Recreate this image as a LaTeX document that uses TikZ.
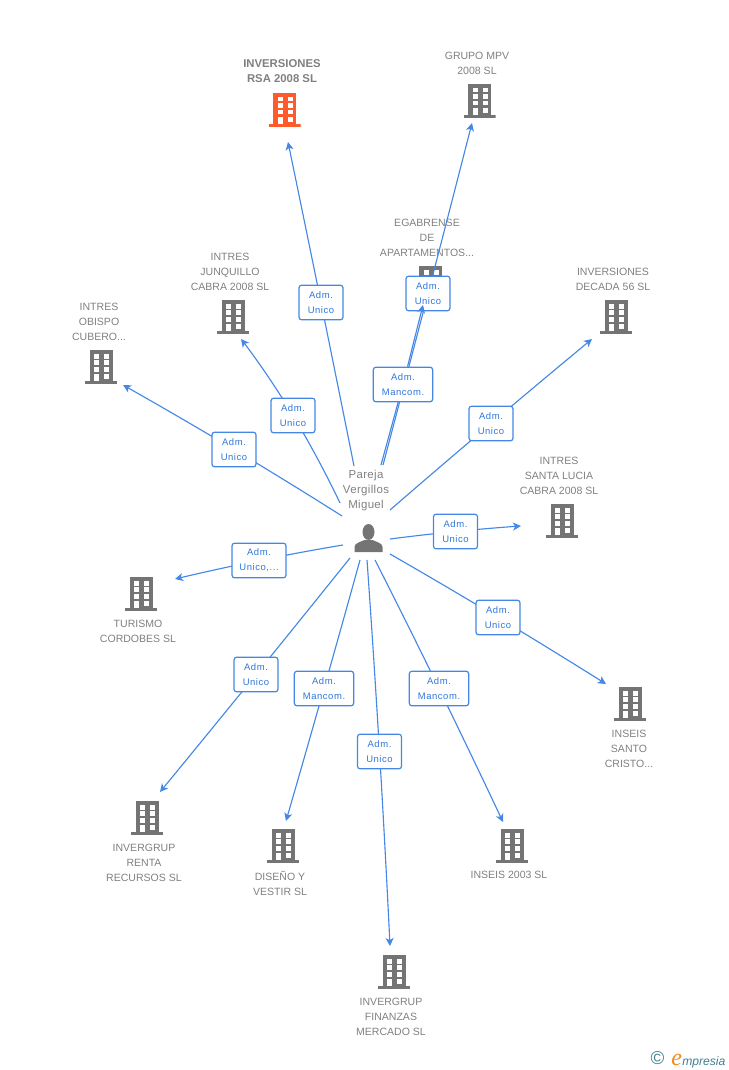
\documentclass[tikz,border=0pt]{standalone}
\usepackage{fontspec}
\setmainfont{Liberation Sans}
\newfontfamily\lblfont[LetterSpace=6]{Liberation Sans}
\newfontfamily\persfont[LetterSpace=3]{Liberation Sans}
\newfontfamily\logoserif{Liberation Serif}
\usetikzlibrary{arrows.meta}
\definecolor{edgeblue}{HTML}{4487E6}
\definecolor{lblblue}{HTML}{2F78DC}
\definecolor{txtgray}{HTML}{808080}
\definecolor{iconGray}{HTML}{747474}
\definecolor{iconRed}{HTML}{FF5A2B}
\definecolor{logoTeal}{HTML}{3F7F94}
\definecolor{logoOrange}{HTML}{F08A1E}
\pgfdeclarelayer{under}
\pgfdeclarelayer{mid}
\pgfsetlayers{under,mid,main}
\newcommand{\bldgicon}[1]{%
  \begin{scope}[shift={(path picture bounding box.center)},x=.75pt,y=-.75pt]
    \fill[#1] (-11.5,-17) rectangle (11.5,14);
    \fill[#1] (-16,14) rectangle (16,17);
    \foreach \wy/\wh in {-13/4.5,-7/5,0/4.5}{
      \fill[white] (-7,\wy) rectangle ++(5,\wh);
      \fill[white] (3,\wy) rectangle ++(5,\wh);
    }
    \fill[white] (-7,7) rectangle (-2,14);
    \fill[white] (3,7) rectangle (8,12);
  \end{scope}}
\tikzset{
  x=.75pt,y=-.75pt,
  bldg/.style={minimum width=24pt,minimum height=25.5pt,inner sep=0pt,outer sep=0pt,path picture={\bldgicon{#1}}},
  bldg/.default=iconGray,
  pers/.style={minimum width=22.5pt,minimum height=22.5pt,inner sep=0pt,path picture={%
    \begin{scope}[shift={(path picture bounding box.center)},x=.75pt,y=-.75pt]
      \fill[iconGray] (0,-6) ellipse (6 and 8);
      \fill[iconGray] (-14,14) -- (-14,9) .. controls (-14,5) and (-8,4) .. (-4,2) -- (4,2) .. controls (8,4) and (14,5) .. (14,9) -- (14,14) -- cycle;
    \end{scope}}},
  nm/.style={text=txtgray,font=\fontsize{7.9pt}{11.25pt}\selectfont,align=center,inner sep=0pt},
  nmb/.style={nm,font=\fontsize{8.5pt}{11.25pt}\selectfont\bfseries},
  pname/.style={text=txtgray,font=\fontsize{8.6pt}{11.25pt}\selectfont\persfont,align=center,inner sep=0pt},
  lab/.style={draw=edgeblue,line width=.9pt,rounded corners=2pt,fill=white,
    text=lblblue,font=\fontsize{7.1pt}{11.25pt}\selectfont\lblfont,align=center,
    inner sep=0pt,minimum height=26pt,minimum width=33pt},
  labw/.style={lab,minimum width=44.5pt},
  labm/.style={lab,minimum width=40.5pt},
  conn/.style={draw=edgeblue,line width=.85pt,-{Stealth[length=6pt,width=6pt,inset=1.6pt]}},
  connp/.style={draw=edgeblue,line width=.85pt},
}
\newcommand{\conn}[3]{\draw[conn] plot[smooth,tension=1] coordinates {(#1) (#2.center) (#3)};}
\begin{document}
\begin{tikzpicture}
\useasboundingbox (0,0) rectangle (728,1070);
% connector end points at the person
\coordinate (p1) at (354,466);
\coordinate (p2) at (383,465);
\coordinate (p3) at (381,465);
\coordinate (p4) at (390,510);
\coordinate (p5) at (390,539);
\coordinate (p6) at (390,554);
\coordinate (p7) at (375,560);
\coordinate (p8) at (367,560);
\coordinate (p9) at (360,560);
\coordinate (p10) at (350,558);
\coordinate (p11) at (343,545);
\coordinate (p12) at (342,516);
\coordinate (p13) at (340,503);
% connector end points at the companies
\coordinate (e1) at (288,142);
\coordinate (e2) at (472,123);
\coordinate (e3) at (423,305);
\coordinate (e4) at (592,339);
\coordinate (e5) at (521,526);
\coordinate (e6) at (606,684);
\coordinate (e7) at (503,822);
\coordinate (e8) at (390,946);
\coordinate (e9) at (286,821);
\coordinate (e10) at (160,792);
\coordinate (e11) at (175,579);
\coordinate (e12) at (123,385);
\coordinate (e13) at (241,339);
% labels
\node[lab] (l1) at (321,302.5) {Adm.\\Unico};
\node[lab] (l2) at (428,293.5) {Adm.\\Unico};
\node[labm,minimum width=44.5pt] (l3) at (403,384.5) {Adm.\\Mancom.};
\node[lab] (l4) at (491,423.5) {Adm.\\Unico};
\node[lab] (l5) at (455.5,531.5) {Adm.\\Unico};
\node[lab] (l6) at (498,617.5) {Adm.\\Unico};
\node[labw] (l7) at (439,688.5) {Adm.\\Mancom.};
\node[lab] (l8) at (379.5,751.5) {Adm.\\Unico};
\node[labw] (l9) at (324,688.5) {Adm.\\Mancom.};
\node[lab] (l10) at (256,674.5) {Adm.\\Unico};
\node[labm] (l11) at (259,560.5) {Adm.\\Unico,...};
\node[lab] (l12) at (234,449.5) {Adm.\\Unico};
\node[lab] (l13) at (293,415.5) {Adm.\\Unico};
% egabrense connector last part lies on top of the boxes
\draw[conn] (l3) -- (e3);
\begin{pgfonlayer}{under}
  \node[bldg=iconRed] (b1) at (284.5,110) {};
  \node[bldg] (b2) at (479.5,101) {};
  \node[bldg] (b3) at (430.5,283) {};
  \node[bldg] (b4) at (616,317) {};
  \node[bldg] (b5) at (562,521) {};
  \node[bldg] (b6) at (630,704) {};
  \node[bldg] (b7) at (512,846) {};
  \node[bldg] (b8) at (394,972) {};
  \node[bldg] (b9) at (283,846) {};
  \node[bldg] (b10) at (147,818) {};
  \node[bldg] (b11) at (141,594) {};
  \node[bldg] (b12) at (101,367) {};
  \node[bldg] (b13) at (233,317) {};
  \node[pers] (pp) at (368.5,538) {};
  \node[nmb] (t1) at (282,71) {INVERSIONES\\RSA 2008 SL};
  \node[nm] (t2) at (477,63) {GRUPO MPV\\2008 SL};
  \node[nm] (t3) at (427,237.5) {EGABRENSE\\DE\\APARTAMENTOS...};
  \node[nm] (t4) at (613,279) {INVERSIONES\\DECADA 56 SL};
  \node[nm] (t5) at (559,475.5) {INTRES\\SANTA LUCIA\\CABRA 2008 SL};
  \node[nm] (t6) at (629,748.5) {INSEIS\\SANTO\\CRISTO...};
  \node[nm] (t7) at (509,875) {INSEIS 2003 SL};
  \node[nm] (t8) at (391,1016.5) {INVERGRUP\\FINANZAS\\MERCADO SL};
  \node[nm] (t9) at (280,883) {DISEÑO Y\\VESTIR SL};
  \node[nm] (t10) at (144,862.5) {INVERGRUP\\RENTA\\RECURSOS SL};
  \node[nm] (t11) at (138,631) {TURISMO\\CORDOBES SL};
  \node[nm] (t12) at (99,321.5) {INTRES\\OBISPO\\CUBERO...};
  \node[nm] (t13) at (230,271.5) {INTRES\\JUNQUILLO\\CABRA 2008 SL};
  \node[pname] (tp) at (366,490.5) {Pareja\\Vergillos\\Miguel};
\end{pgfonlayer}
\begin{pgfonlayer}{mid}
  \conn{p1}{l1}{e1}
  \conn{p2}{l2}{e2}
  \draw[connp] (p3) -- (l3.center);
  \conn{p4}{l4}{e4}
  \conn{p5}{l5}{e5}
  \conn{p6}{l6}{e6}
  \conn{p7}{l7}{e7}
  \conn{p8}{l8}{e8}
  \conn{p9}{l9}{e9}
  \conn{p10}{l10}{e10}
  \conn{p11}{l11}{e11}
  \conn{p12}{l12}{e12}
  \conn{p13}{l13}{e13}
\end{pgfonlayer}
% logo
\node[inner sep=0pt,text=logoTeal,font=\fontsize{14pt}{14pt}\selectfont] (lc) at (657.5,1058.5) {©};
\node[anchor=base west,inner sep=0pt,text=logoOrange,font=\fontsize{18pt}{18pt}\selectfont\logoserif\itshape] (le) at (671,1065) {e};
\node[anchor=base west,inner sep=0pt,text=logoTeal,font=\fontsize{9.1pt}{10pt}\selectfont\itshape] (lr) at (682,1065) {mpresia};
\end{tikzpicture}
\end{document}
